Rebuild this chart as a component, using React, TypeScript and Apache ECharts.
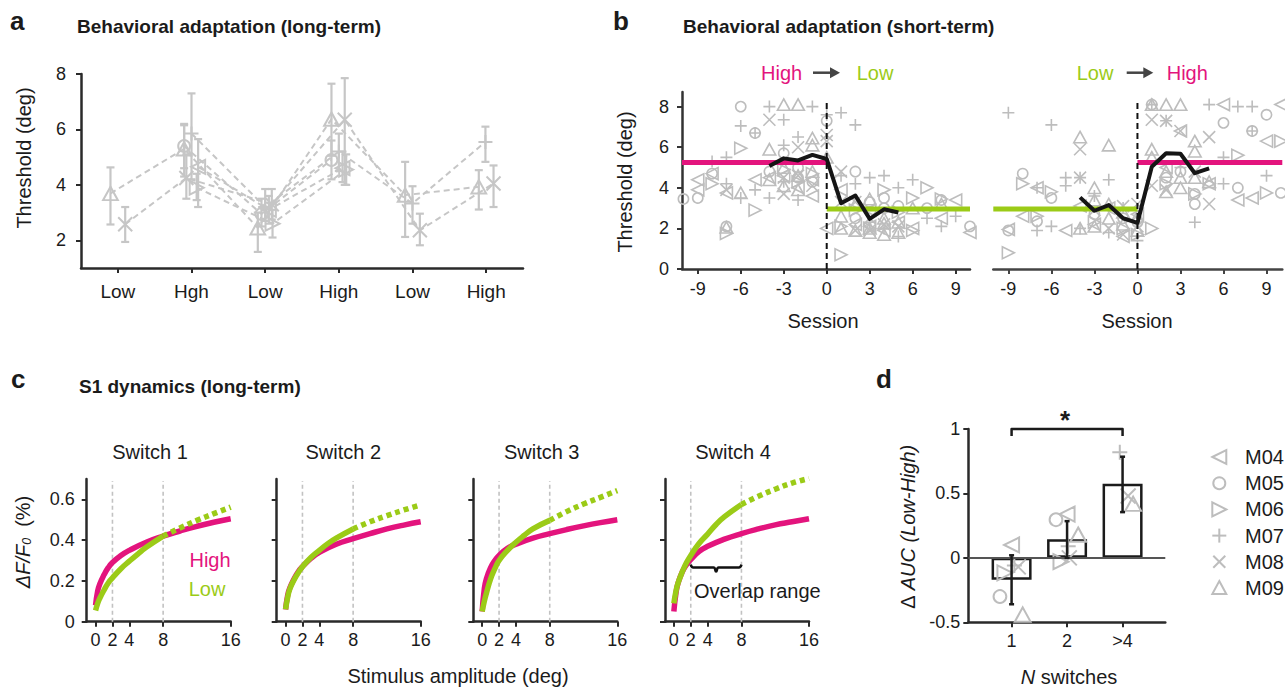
import React, { useEffect, useRef } from 'react';
import * as echarts from 'echarts';

const FONT = '"Liberation Sans", Arial, Helvetica, sans-serif';
const INK = '#1b1b1b';
const AXIS = '#2a2a2a';
const GRAY = '#bdbdbd';
const LINEGRAY = '#c6c6c6';
const MAG = '#e3147d';
const GRN = '#9bcb17';

const ANIMALS = ['M04', 'M05', 'M06', 'M07', 'M08', 'M09'];
const SYMBOLS: Record<string, string> = {
  M04: 'path://M0,5L10,0L10,10Z',
  M05: 'circle',
  M06: 'path://M10,5L0,0L0,10Z',
  M07: 'path://M0,5L10,5M5,0L5,10',
  M08: 'path://M0,0L10,10M10,0L0,10',
  M09: 'path://M5,0L10,9L0,9Z',
};

// ---------- Panel a: long-term behavioural adaptation ----------
const aCategories = ['Low', 'Hgh', 'Low', 'High', 'Low', 'High'];
// [x position (jittered session index), mean, lower, upper]
const aM04 = [[2.09, 4.65, 3.2, 5.65], [3.05, 3.1, 2.6, 3.6], [4.05, 4.6, 4.1, 5.2]];
const aM05 = [[1.9, 5.4, 4.6, 6.2], [2.95, 2.95, 2.5, 3.5], [3.9, 4.9, 4.2, 5.6]];
const aM06 = [[2.07, 3.9, 3.45, 4.4], [3.1, 2.6, 2.1, 3.1], [4.1, 4.55, 4.0, 5.1]];
const aM07 = [[2.0, 5.85, 4.2, 7.3], [3.0, 3.2, 2.7, 3.85], [4.0, 5.2, 4.5, 5.85], [5.0, 3.33, 2.6, 3.95], [5.99, 5.55, 4.83, 6.1]];
const aM08 = [[1.1, 2.58, 1.94, 3.2], [1.93, 4.25, 3.5, 5.1], [3.09, 3.3, 2.75, 3.85], [4.08, 6.35, 4.0, 7.85], [5.1, 2.36, 1.82, 2.96], [6.1, 4.05, 3.2, 4.7]];
const aM09 = [[0.9, 3.69, 2.57, 4.63], [1.9, 5.3, 4.3, 6.15], [2.9, 2.45, 1.58, 3.0], [3.9, 6.37, 5.05, 7.65], [4.9, 3.63, 2.12, 4.83], [5.9, 3.93, 3.11, 4.53]];

// ---------- Panel b: short-term adaptation ----------
const bSessionTicks = [-9, -6, -3, 0, 3, 6, 9];
const bHighLevel = 5.25;
const bLowLevel = 2.95;
const bMeanSessions = [-4, -3, -2, -1, 0, 1, 2, 3, 4, 5];
const bHighToLowMean = [5.07, 5.45, 5.35, 5.62, 5.42, 3.24, 3.62, 2.47, 2.94, 2.78];
const bLowToHighMean = [3.53, 2.87, 3.15, 2.5, 2.27, 5.04, 5.7, 5.68, 4.72, 4.96];

const bHL_M04 = [[-8, 4.7], [-9, 4.4], [-7, 3.75], [-5, 4.4], [-3, 4.6], [-1, 3.6], [0, 2.0], [-2, 4.0], [1, 3.9], [2, 2.2], [3, 2.1], [5, 2.3], [6, 2.0], [9, 3.4], [10, 1.8], [8, 2.5], [4, 1.9], [-4, 4.5], [-9, 3.9], [-1, 4.4], [3, 2.9]];
const bHL_M05 = [[-6, 8.0], [-5, 6.7], [-3, 5.7], [-8, 4.7], [-9, 3.5], [-10, 3.45], [-7, 2.1], [-2, 5.0], [-1, 4.3], [0, 7.3], [2, 4.8], [2, 2.5], [3, 3.3], [4, 3.0], [5, 3.1], [7, 3.0], [10, 2.1], [8, 3.4], [-4, 4.8], [4, 3.5], [-2, 4.5]];
const bHL_M06 = [[-6, 5.95], [-5, 2.9], [-7, 1.75], [-2, 4.3], [1, 0.7], [4, 3.9], [7, 4.0], [8, 3.45], [2, 2.9], [3, 2.0], [5, 2.8], [6, 3.5], [-3, 4.9], [-1, 4.7], [-8, 4.2], [1, 2.1], [6, 1.9]];
const bHL_M07 = [[-4, 8.0], [-1, 8.0], [-3, 7.35], [-6, 7.05], [-5, 6.7], [-3, 6.1], [-7, 5.5], [-8, 5.3], [-7, 4.2], [-6, 3.5], [-4, 3.5], [-2, 3.4], [-2, 6.5], [1, 7.7], [2, 7.1], [0, 7.6], [3, 4.5], [4, 4.6], [6, 4.4], [5, 4.0], [9, 2.6], [1, 4.6], [2, 4.2], [5, 1.6], [3, 2.3], [7, 2.5], [8, 2.1], [4, 2.0], [-5, 3.9], [-3, 4.3]];
const bHL_M08 = [[-4, 7.35], [-7, 3.9], [-3, 3.7], [-2, 4.6], [-1, 4.1], [0, 6.3], [0, 6.6], [1, 4.8], [2, 3.3], [3, 2.5], [4, 2.2], [2, 1.9], [-3, 4.5], [5, 2.1], [1, 3.3], [-2, 6.0], [3, 1.9]];
const bHL_M09 = [[-3, 8.1], [-2, 8.1], [-4, 5.9], [-1, 6.45], [-1, 6.1], [-3, 5.0], [-2, 4.6], [-4, 4.4], [-1, 4.8], [-3, 4.1], [-2, 3.9], [-6, 3.75], [-7, 2.05], [1, 2.0], [2, 1.9], [3, 2.0], [4, 2.25], [5, 1.8], [1, 2.6], [2, 3.2], [3, 3.45], [4, 2.5], [5, 2.3], [6, 3.0], [3, 1.8], [4, 1.7], [8, 3.2], [0, 5.5]];

const bLH_M04 = [[-9, 1.95], [-8, 2.6], [-5, 1.9], [-7, 4.0], [-2, 3.0], [-1, 1.6], [0, 2.7], [3, 6.8], [6, 8.1], [9, 6.3], [10, 8.1], [7, 3.4], [8, 3.5], [2, 5.0], [5, 4.2], [-4, 3.1], [-3, 2.2]];
const bLH_M05 = [[-8, 4.7], [-7, 2.35], [-9, 1.9], [-6, 3.5], [1, 8.1], [6, 7.2], [8, 6.8], [9, 7.6], [10, 3.75], [7, 4.0], [4, 3.2], [3, 4.8], [-3, 2.7], [-1, 2.5], [0, 2.3], [2, 4.5], [4, 3.7]];
const bLH_M06 = [[-9, 0.8], [-7, 2.6], [-6, 3.8], [-8, 4.2], [-3, 2.3], [0, 1.7], [1, 2.0], [7, 5.6], [10, 6.3], [9, 3.75], [2, 4.2], [4, 3.7], [5, 4.2], [-1, 2.0]];
const bLH_M07 = [[-9, 7.7], [-6, 7.1], [-5, 4.5], [-4, 4.5], [-2, 4.4], [-7, 4.0], [-7, 1.9], [-6, 2.1], [-5, 4.1], [-3, 3.6], [-2, 1.8], [-1, 3.0], [1, 8.1], [5, 8.1], [7, 8.0], [8, 8.0], [8, 6.8], [6, 5.5], [9, 4.6], [4, 2.3], [3, 5.0], [2, 7.3], [6, 4.2], [-4, 2.0], [0, 1.4]];
const bLH_M08 = [[-4, 5.9], [-4, 4.5], [-3, 2.9], [-2, 2.0], [-1, 3.1], [0, 2.1], [1, 7.35], [2, 7.3], [3, 6.8], [5, 6.5], [5, 3.2], [1, 4.1], [2, 3.9], [4, 4.8], [0, 3.2], [-1, 1.7]];
const bLH_M09 = [[-4, 6.5], [-2, 6.1], [-3, 4.0], [-3, 3.4], [-2, 3.2], [-1, 2.2], [-1, 2.8], [0, 1.9], [-4, 2.0], [-2, 2.5], [1, 8.1], [2, 8.1], [3, 8.1], [1, 5.9], [1, 5.5], [2, 4.8], [3, 4.5], [4, 4.5], [4, 6.3], [4, 5.8], [3, 4.0], [5, 4.3], [2, 3.8], [-3, 2.1], [0, 2.6]];

// ---------- Panel c: S1 dynamics ----------
const cAmpTicks = [0, 2, 4, 8, 16];
const cRefAmps = [2, 8];
const cXHigh = [0, 0.25, 0.5, 1, 1.5, 2, 3, 4, 6, 8, 10, 12, 14, 16];
const cXLow = [0, 0.25, 0.5, 1, 1.5, 2, 3, 4, 5, 6, 8];
const cXLowExt = [8, 10, 12, 14, 16];
const c1High = [0.08, 0.15, 0.185, 0.23, 0.265, 0.29, 0.325, 0.35, 0.39, 0.42, 0.445, 0.468, 0.488, 0.505];
const c1Low = [0.055, 0.09, 0.115, 0.155, 0.19, 0.215, 0.26, 0.297, 0.332, 0.365, 0.42];
const c1LowExt = [0.42, 0.46, 0.497, 0.53, 0.562];
const c2High = [0.06, 0.13, 0.165, 0.21, 0.245, 0.27, 0.31, 0.34, 0.38, 0.407, 0.432, 0.455, 0.474, 0.49];
const c2Low = [0.06, 0.12, 0.16, 0.205, 0.24, 0.27, 0.315, 0.35, 0.383, 0.41, 0.455];
const c2LowExt = [0.455, 0.49, 0.52, 0.548, 0.573];
const c3High = [0.05, 0.16, 0.21, 0.265, 0.3, 0.325, 0.36, 0.38, 0.41, 0.432, 0.452, 0.47, 0.486, 0.5];
const c3Low = [0.05, 0.1, 0.14, 0.21, 0.26, 0.3, 0.35, 0.39, 0.424, 0.455, 0.497];
const c3LowExt = [0.497, 0.54, 0.577, 0.61, 0.643];
const c4High = [0.05, 0.14, 0.19, 0.245, 0.28, 0.305, 0.345, 0.37, 0.405, 0.432, 0.455, 0.475, 0.49, 0.505];
const c4Low = [0.09, 0.15, 0.19, 0.245, 0.29, 0.325, 0.385, 0.43, 0.477, 0.515, 0.575];
const c4LowExt = [0.575, 0.615, 0.65, 0.68, 0.703];
const cOverlapBrace = [[2, 0.28], [2.3, 0.266], [4.7, 0.266], [5, 0.246], [5.3, 0.266], [7.7, 0.266], [8, 0.28]];

// ---------- Panel d: delta AUC ----------
const dCategories = ['1', '2', '>4'];
const dMean = [-0.17, 0.145, 0.575];
const dLower = [-0.36, 0.0, 0.355];
const dUpper = [0.02, 0.285, 0.785];
const dM04 = [[1.0, 0.1], [2.0, 0.34]];
const dM05 = [[0.79, -0.3], [1.8, 0.296]];
const dM06 = [[0.88, -0.116], [1.89, -0.03]];
const dM07 = [[1.05, -0.06], [2.02, 0.09], [2.95, 0.82]];
const dM08 = [[1.12, -0.07], [2.04, 0.0], [3.1, 0.48]];
const dM09 = [[1.2, -0.44], [2.2, 0.18], [3.19, 0.42]];
const dBracketY = [0.945, 1.0];

function buildOption() {
  const aData: Record<string, number[][]> = { M04: aM04, M05: aM05, M06: aM06, M07: aM07, M08: aM08, M09: aM09 };
  const bHL: Record<string, number[][]> = { M04: bHL_M04, M05: bHL_M05, M06: bHL_M06, M07: bHL_M07, M08: bHL_M08, M09: bHL_M09 };
  const bLH: Record<string, number[][]> = { M04: bLH_M04, M05: bLH_M05, M06: bLH_M06, M07: bLH_M07, M08: bLH_M08, M09: bLH_M09 };
  const dPts: Record<string, number[][]> = { M04: dM04, M05: dM05, M06: dM06, M07: dM07, M08: dM08, M09: dM09 };

  const grids = [
    { left: 81, top: 74, width: 442, height: 194 },
    { left: 682, top: 92, width: 288, height: 177 },
    { left: 993.3, top: 92, width: 289, height: 177 },
    { left: 86.7, top: 479, width: 144, height: 142.7 },
    { left: 276.7, top: 479, width: 144, height: 142.7 },
    { left: 473.3, top: 479, width: 144, height: 142.7 },
    { left: 665, top: 479, width: 144, height: 142.7 },
    { left: 968.3, top: 429, width: 197, height: 193.3 },
  ];

  const axis = (gi: number, min: number, max: number, ticks: number[], o: any = {}) => ({
    type: 'value',
    gridIndex: gi,
    min,
    max,
    splitLine: { show: false },
    axisLine: { show: o.line !== false, onZero: false, lineStyle: { color: o.color || AXIS, width: 2.5 } },
    axisTick: { show: o.ticks !== false, customValues: ticks, length: 5, lineStyle: { color: o.color || AXIS, width: 2 } },
    axisLabel: {
      show: o.labels !== false,
      customValues: ticks,
      margin: o.margin ?? 10,
      color: INK,
      fontFamily: FONT,
      fontSize: o.fontSize || 18,
      formatter: o.fmt,
    },
  });

  const xAxis = [
    axis(0, 0.5, 6.5, [1, 2, 3, 4, 5, 6], { margin: 14, fontSize: 19, fmt: (v: number) => aCategories[Math.round(v) - 1] }),
    axis(1, -10.1, 10, bSessionTicks, { margin: 11, color: '#333' }),
    axis(2, -10.05, 10.1, bSessionTicks, { margin: 11, color: '#444' }),
    axis(3, -1.05, 16, cAmpTicks, { margin: 9 }),
    axis(4, -1.05, 16, cAmpTicks, { margin: 9 }),
    axis(5, -1.05, 16, cAmpTicks, { margin: 9 }),
    axis(6, -1.05, 16, cAmpTicks, { margin: 9 }),
    axis(7, 0.22, 3.77, [1, 2, 3], { margin: 10, fmt: (v: number) => dCategories[Math.round(v) - 1] }),
  ];
  const yAxis = [
    axis(0, 1, 8, [2, 4, 6, 8], { margin: 15 }),
    axis(1, 0, 8.72, [0, 2, 4, 6, 8], { margin: 13, color: '#333' }),
    axis(2, 0, 8.72, [0, 2, 4, 6, 8], { line: false, ticks: false, labels: false }),
    axis(3, 0, 0.7, [0, 0.2, 0.4, 0.6], { margin: 12 }),
    axis(4, 0, 0.7, [0, 0.2, 0.4, 0.6], { labels: false }),
    axis(5, 0, 0.7, [0, 0.2, 0.4, 0.6], { labels: false }),
    axis(6, 0, 0.7, [0, 0.2, 0.4, 0.6], { labels: false }),
    axis(7, -0.5, 1, [-0.5, 0, 0.5, 1], { margin: 8 }),
  ];

  const series: any[] = [];

  const scatter = (name: string, data: number[][], gi: number, size: number, lw: number, color = GRAY, z = 3) => ({
    type: 'scatter',
    name,
    xAxisIndex: gi,
    yAxisIndex: gi,
    data,
    symbol: SYMBOLS[name],
    symbolSize: name === 'M05' ? size * 0.85 : name === 'M09' ? [size * 1.05, size * 0.95] : size,
    itemStyle: { color: 'rgba(0,0,0,0)', borderColor: color, borderWidth: lw, opacity: 1 },
    silent: true,
    z,
  });

  const line = (data: number[][], gi: number, color: string, width: number, type: any = 'solid', z = 4, extra: any = {}) => ({
    type: 'line',
    xAxisIndex: gi,
    yAxisIndex: gi,
    data,
    symbol: 'none',
    silent: true,
    z,
    lineStyle: { color, width, type, cap: 'butt', join: 'round' },
    ...extra,
  });

  const errBars = (data: number[][], gi: number, color: string, lw: number, cap: number, z = 4) => ({
    type: 'custom',
    xAxisIndex: gi,
    yAxisIndex: gi,
    data,
    encode: { x: 0, y: [1, 2] },
    silent: true,
    z,
    renderItem: (_p: any, api: any) => {
      const x = api.value(0);
      const a = api.coord([x, api.value(1)]);
      const b = api.coord([x, api.value(2)]);
      const st = { stroke: color, lineWidth: lw, fill: null };
      return {
        type: 'group',
        children: [
          { type: 'line', shape: { x1: a[0], y1: a[1], x2: b[0], y2: b[1] }, style: st },
          { type: 'line', shape: { x1: a[0] - cap, y1: a[1], x2: a[0] + cap, y2: a[1] }, style: st },
          { type: 'line', shape: { x1: b[0] - cap, y1: b[1], x2: b[0] + cap, y2: b[1] }, style: st },
        ],
      };
    },
  });

  // Panel a
  ANIMALS.forEach((m) => {
    const d = aData[m];
    series.push(line(d.map((r) => [r[0], r[1]]), 0, LINEGRAY, 2, [6, 4], 2));
    series.push(errBars(d.map((r) => [r[0], r[2], r[3]]), 0, LINEGRAY, 2.2, 4, 3));
    series.push(scatter(m, d.map((r) => [r[0], r[1]]), 0, 14, 2, LINEGRAY, 4));
  });

  // Panel b
  ANIMALS.forEach((m) => {
    series.push(scatter(m, bHL[m], 1, 12, 1.6));
    series.push(scatter(m, bLH[m], 2, 12, 1.6));
  });
  series.push(line([[-10.1, bHighLevel], [0, bHighLevel]], 1, MAG, 5, 'solid', 5));
  series.push(line([[0, bLowLevel], [10, bLowLevel]], 1, GRN, 5, 'solid', 5));
  series.push(line([[-10.05, bLowLevel], [0, bLowLevel]], 2, GRN, 5, 'solid', 5));
  series.push(line([[0, bHighLevel], [10.1, bHighLevel]], 2, MAG, 5, 'solid', 5));
  series.push(line([[0, 0], [0, 8.25]], 1, '#111', 2, [6, 4], 6));
  series.push(line([[0, 0], [0, 8.25]], 2, '#111', 2, [6, 4], 6));
  series.push(line(bMeanSessions.map((s, i) => [s, bHighToLowMean[i]]), 1, '#151515', 4, 'solid', 7));
  series.push(line(bMeanSessions.map((s, i) => [s, bLowToHighMean[i]]), 2, '#151515', 4, 'solid', 7));

  // Panel c
  const cSets = [
    [c1High, c1Low, c1LowExt],
    [c2High, c2Low, c2LowExt],
    [c3High, c3Low, c3LowExt],
    [c4High, c4Low, c4LowExt],
  ];
  cSets.forEach((set, k) => {
    const gi = 3 + k;
    cRefAmps.forEach((a) => series.push(line([[a, 0], [a, 0.69]], gi, '#c2c2c2', 1.6, [4, 3], 2)));
    series.push(line(cXHigh.map((x, i) => [x, set[0][i]]), gi, MAG, 5.5, 'solid', 4, { smooth: 0.5 }));
    series.push(line(cXLow.map((x, i) => [x, set[1][i]]), gi, GRN, 5.5, 'solid', 5, { smooth: 0.5 }));
    series.push(line(cXLowExt.map((x, i) => [x, set[2][i]]), gi, GRN, 5.5, [5, 4], 5, { smooth: 0.5 }));
  });
  series.push(line(cOverlapBrace, 6, '#111', 2.5, 'solid', 6, { smooth: 0.5 }));

  // Panel d
  series.push({
    type: 'bar',
    xAxisIndex: 7,
    yAxisIndex: 7,
    data: dMean.map((v, i) => [i + 1, v]),
    barWidth: 40,
    silent: true,
    z: 2,
    itemStyle: { color: 'rgba(255,255,255,0)', borderColor: INK, borderWidth: 2.5 },
    markLine: {
      silent: true,
      symbol: 'none',
      label: { show: false },
      lineStyle: { color: '#555', width: 2, type: 'solid' },
      data: [{ yAxis: 0 }],
    },
  });
  ANIMALS.forEach((m) => series.push(scatter(m, dPts[m], 7, 15, 2, GRAY, 3)));
  series.push(errBars(dMean.map((_, i) => [i + 1, dLower[i], dUpper[i]]), 7, INK, 2.5, 2.5, 5));
  series.push(line([[1, dBracketY[0]], [1, dBracketY[1]], [3, dBracketY[1]], [3, dBracketY[0]]], 7, INK, 2.5, 'solid', 6, { clip: false }));

  // Text / annotations
  const T = (text: string, x: number, y: number, o: any = {}) => ({
    type: 'text',
    x,
    y,
    rotation: o.rot || 0,
    silent: true,
    z: 100,
    style: {
      text,
      fill: o.color || INK,
      fontFamily: FONT,
      fontSize: o.size || 20,
      fontWeight: o.bold ? 'bold' : 'normal',
      fontStyle: o.italic ? 'italic' : 'normal',
      align: o.align || 'left',
      verticalAlign: 'middle',
      rich: o.rich,
    },
  });
  const R = Math.PI / 2;
  const richBase = (size: number) => ({
    n: { fontFamily: FONT, fontSize: size, fill: INK, color: INK },
    i: { fontFamily: FONT, fontSize: size, fontStyle: 'italic', fill: INK, color: INK },
    s: { fontFamily: FONT, fontSize: size * 0.62, fontStyle: 'italic', fill: INK, color: INK, verticalAlign: 'bottom' },
  });

  const arrow = (x1: number, x2: number, y: number) => [
    { type: 'line', silent: true, shape: { x1, y1: y, x2: x2 - 8, y2: y }, style: { stroke: '#444', lineWidth: 2.5 } },
    { type: 'polygon', silent: true, shape: { points: [[x2 - 10, y - 5.5], [x2, y], [x2 - 10, y + 5.5]] }, style: { fill: '#444' } },
  ];

  const legendEls: any[] = [];
  ANIMALS.forEach((m, i) => {
    const cx = 1219.3;
    const cy = 457 + 26.2 * i;
    const st = { stroke: GRAY, lineWidth: 2, fill: 'none' };
    const h = 7;
    if (m === 'M04') legendEls.push({ type: 'polygon', silent: true, shape: { points: [[cx - h, cy], [cx + h, cy - h], [cx + h, cy + h]] }, style: st });
    if (m === 'M05') legendEls.push({ type: 'circle', silent: true, shape: { cx, cy, r: 6 }, style: st });
    if (m === 'M06') legendEls.push({ type: 'polygon', silent: true, shape: { points: [[cx + h, cy], [cx - h, cy - h], [cx - h, cy + h]] }, style: st });
    if (m === 'M07') {
      legendEls.push({ type: 'line', silent: true, shape: { x1: cx - h, y1: cy, x2: cx + h, y2: cy }, style: st });
      legendEls.push({ type: 'line', silent: true, shape: { x1: cx, y1: cy - h, x2: cx, y2: cy + h }, style: st });
    }
    if (m === 'M08') {
      legendEls.push({ type: 'line', silent: true, shape: { x1: cx - 6, y1: cy - 6, x2: cx + 6, y2: cy + 6 }, style: st });
      legendEls.push({ type: 'line', silent: true, shape: { x1: cx + 6, y1: cy - 6, x2: cx - 6, y2: cy + 6 }, style: st });
    }
    if (m === 'M09') legendEls.push({ type: 'polygon', silent: true, shape: { points: [[cx, cy - h], [cx + h, cy + 6], [cx - h, cy + 6]] }, style: st });
    legendEls.push(T(m, 1245, cy, { size: 20 }));
  });

  const graphic = [
    T('a', 10, 21, { size: 26, bold: true }),
    T('Behavioral adaptation (long-term)', 77, 26.5, { bold: true, size: 19 }),
    T('b', 613, 21, { size: 26, bold: true }),
    T('Behavioral adaptation (short-term)', 683, 26.5, { bold: true, size: 19 }),
    T('c', 11, 379, { size: 26, bold: true }),
    T('S1 dynamics (long-term)', 79, 386, { bold: true, size: 19 }),
    T('d', 876, 379, { size: 26, bold: true }),

    T('Threshold (deg)', 24, 158, { rot: R, align: 'center' }),

    T('Threshold (deg)', 625, 182, { rot: R, align: 'center' }),
    T('Session', 823, 321, { align: 'center' }),
    T('Session', 1137, 321, { align: 'center' }),
    T('High', 761, 72.7, { color: MAG }),
    ...arrow(813, 840, 72.7),
    T('Low', 856.7, 72.7, { color: GRN }),
    T('Low', 1076.7, 72.7, { color: GRN }),
    ...arrow(1126.7, 1153.3, 72.7),
    T('High', 1166.7, 72.7, { color: MAG }),

    T('Switch 1', 150, 452, { align: 'center' }),
    T('Switch 2', 343.3, 452, { align: 'center' }),
    T('Switch 3', 541.7, 452, { align: 'center' }),
    T('Switch 4', 733, 452, { align: 'center' }),
    T('{i|ΔF/F}{s|0}{n|  (%)}', 23, 542, { rot: R, align: 'center', rich: richBase(20) }),
    T('High', 210, 560, { color: MAG, align: 'center' }),
    T('Low', 207, 589, { color: GRN, align: 'center' }),
    T('Overlap range', 694, 591),
    T('Stimulus amplitude (deg)', 458, 676, { align: 'center' }),

    T('*', 1065, 420, { size: 26, bold: true, align: 'center' }),
    T('{n|Δ }{i|AUC (Low-High)}', 908, 527, { rot: R, align: 'center', rich: richBase(20) }),
    T('{i|N}{n| switches}', 1069, 677, { align: 'center', rich: richBase(20) }),
    ...legendEls,
  ];

  return {
    animation: false,
    backgroundColor: '#ffffff',
    textStyle: { fontFamily: FONT },
    grid: grids,
    xAxis,
    yAxis,
    series,
    graphic,
  };
}

export default function App() {
  const ref = useRef<HTMLDivElement>(null);
  useEffect(() => {
    if (!ref.current) return;
    const chart = echarts.init(ref.current, undefined, { renderer: 'svg' });
    chart.setOption(buildOption() as any);
    return () => chart.dispose();
  }, []);
  return (
    <div
      ref={ref}
      style={{ position: 'absolute', left: 0, top: 0, width: 1285, height: 687, background: '#fff' }}
    />
  );
}
